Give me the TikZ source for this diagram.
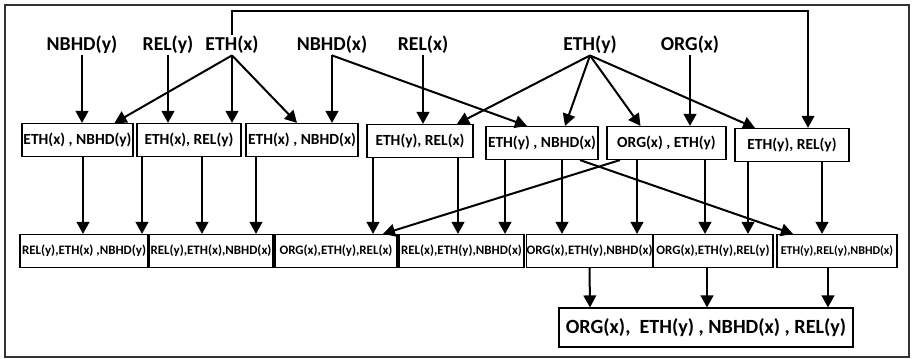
\documentclass[tikz,border=0pt]{standalone}
\usepackage{fontspec}
\setmainfont{Carlito}
\usepackage{tikz}
\usetikzlibrary{arrows.meta, calc}

\begin{document}
\begin{tikzpicture}[
  x=0.75pt, y=-0.75pt,
  every node/.style={font=\bfseries},
  var/.style={inner sep=1pt, font=\fontsize{14.8}{16}\selectfont\bfseries},
  pair/.style={rectangle, draw=black, line width=1.1pt, inner sep=0pt,
               minimum height=24.5pt, align=center,
               font=\fontsize{11.6}{13}\selectfont\bfseries},
  triple/.style={rectangle, draw=black, line width=1.1pt, inner sep=0pt,
                 minimum height=24.5pt, align=center,
                 font=\fontsize{9.7}{11}\selectfont\bfseries},
  joint/.style={rectangle, draw=black, line width=1.1pt, inner sep=0pt,
                minimum width=220.5pt, minimum height=29pt,
                font=\fontsize{15.1}{17}\selectfont\bfseries},
  arr/.style={-{Triangle[length=9pt, width=9.5pt]}, line width=1.5pt, black}
]
  \useasboundingbox (0,0) rectangle (912,359);
  \draw[line width=1.1pt, black!80] (5,5) rectangle (909,357);

  % Top tier: single variables
  \node[var] (nbhdy) at (82,  45) {NBHD(y)};
  \node[var] (rely)  at (168, 45) {REL(y)};
  \node[var] (ethx)  at (232, 45) {ETH(x)};
  \node[var] (nbhdx) at (332, 45) {NBHD(x)};
  \node[var] (relx)  at (423, 45) {REL(x)};
  \node[var] (ethy)  at (590, 45) {ETH(y)};
  \node[var] (orgx)  at (690, 45) {ORG(x)};

  % Second tier: pairs
  \node[pair, minimum width=83pt] (pa) at (77.5, 140) {ETH(x) , NBHD(y)};
  \node[pair, minimum width=78pt] (pb) at (189,  140) {ETH(x), REL(y)};
  \node[pair, minimum width=84pt] (pc) at (302,  140) {ETH(x) , NBHD(x)};
  \node[pair, minimum width=79.5pt] (pd) at (420, 141) {ETH(y), REL(x)};
  \node[pair, minimum width=84pt] (pe) at (542,  143) {ETH(y) , NBHD(x)};
  \node[pair, minimum width=89pt] (pf) at (666.5, 143) {ORG(x) , ETH(y)};
  \node[pair, minimum width=85.5pt] (pg) at (792, 145) {ETH(y), REL(y)};

  % Third tier: triples
  \node[triple, minimum width=96pt] (ta) at (84,    251) {REL(y),ETH(x) ,NBHD(y)};
  \node[triple, minimum width=93pt] (tb) at (211,   251) {REL(y),ETH(x),NBHD(x)};
  \node[triple, minimum width=91.5pt] (tc) at (336, 251) {ORG(x),ETH(y),REL(x)};
  \node[triple, minimum width=93.5pt] (td) at (461.5, 251) {REL(x),ETH(y),NBHD(x)};
  \node[triple, minimum width=93.5pt] (te) at (589.5, 251) {ORG(x),ETH(y),NBHD(x)};
  \node[triple, minimum width=90pt] (tf) at (713,   251) {ORG(x),ETH(y),REL(y)};
  \node[triple, minimum width=90pt, font=\fontsize{9}{10}\selectfont\bfseries]
    (tg) at (837, 251) {ETH(y),REL(y),NBHD(x)};

  % Bottom: full set
  \node[joint] (all) at (706, 327.5) {ORG(x),\ \ ETH(y) , NBHD(x) , REL(y)};

  % Variables to pairs
  \draw[arr] (nbhdy.south) -- (nbhdy.south |- pa.north);
  \draw[arr] (ethx.south) -- ($(pa.north)+(37,0)$);
  \draw[arr] (rely.south) -- (rely.south |- pb.north);
  \draw[arr] (ethx.south) -- (ethx.south |- pb.north);
  \draw[arr] (ethx.south) -- ($(pc.north)+(-5,0)$);
  \draw[arr] (nbhdx.south) -- (nbhdx.south |- pc.north);
  \draw[arr] (nbhdx.south) -- ($(pe.north)+(-15,0)$);
  \draw[arr] (relx.south) -- (relx.south |- pd.north);
  \draw[arr] (ethy.south) -- ($(pd.north)+(37,0)$);
  \draw[arr] (ethy.south) -- ($(pe.north)+(23,0)$);
  \draw[arr] (ethy.south) -- ($(pf.north)+(-26,0)$);
  \draw[arr] (orgx.south) -- (orgx.south |- pf.north);
  \draw[arr] (ethy.south) -- ($(pg.north)+(-37,0)$);
  \coordinate (bend) at (808, 11);
  \draw[arr, line width=1.2pt] (ethx.north) |- (bend) -- (bend |- pg.north);

  % Pairs to triples
  \draw[arr] ($(pa.south)+(5.5,0)$)  -- ($(ta.north)+(-1,0)$);
  \draw[arr] ($(pb.south)+(-47,0)$)  -- ($(ta.north)+(58,0)$);
  \draw[arr] ($(pb.south)+(13,0)$)   -- ($(tb.north)+(-9,0)$);
  \draw[arr] ($(pc.south)+(-46,0)$)  -- ($(tb.north)+(45,0)$);
  \draw[arr] ($(pd.south)+(-47,0)$)  -- ($(tc.north)+(37,0)$);
  \draw[arr] ($(pf.south)+(-46.5,0)$) -- ($(tc.north)+(47,0)$);
  \draw[arr] ($(pd.south)+(38,0)$)   -- ($(td.north)+(-3.5,0)$);
  \draw[arr] ($(pe.south)+(-37,0)$)  -- ($(td.north)+(43.5,0)$);
  \draw[arr] ($(pe.south)+(20,0)$)   -- ($(te.north)+(-27.5,0)$);
  \draw[arr] ($(pe.south)+(38,0)$)   -- ($(tg.north)+(-44,0)$);
  \draw[arr] ($(pf.south)+(-29.5,0)$) -- ($(te.north)+(47.5,0)$);
  \draw[arr] ($(pf.south)+(38.5,0)$) -- ($(tf.north)+(-8,0)$);
  \draw[arr] ($(pg.south)+(-44,0)$)  -- ($(tf.north)+(35,0)$);
  \draw[arr] ($(pg.south)+(30,0)$)   -- ($(tg.north)+(-15,0)$);

  % Triples to the full set
  \draw[arr] (te.south) -- ($(all.north)+(-116,0)$);
  \draw[arr] ($(tf.south)+(-6,0)$) -- ($(all.north)+(1,0)$);
  \draw[arr] ($(tg.south)+(-9,0)$) -- ($(all.north)+(122,0)$);
\end{tikzpicture}
\end{document}
